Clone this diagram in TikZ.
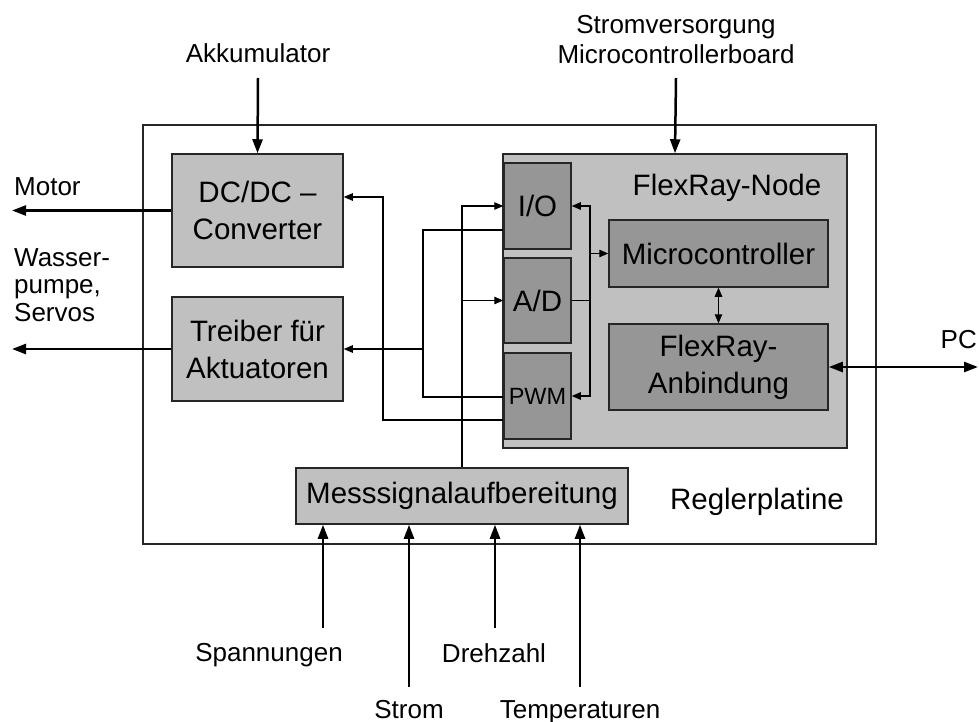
\documentclass[tikz,border=0pt]{standalone}
\usepackage{fontspec}
\setmainfont{Liberation Sans}
\usetikzlibrary{arrows.meta}
\definecolor{hellgrau}{RGB}{192,192,192}
\definecolor{dunkelgrau}{RGB}{150,150,150}
\tikzset{
  block/.style={draw=black!85, line width=1.5pt, fill=hellgrau, inner sep=0pt, align=center, font=\fontsize{29.5}{37}\selectfont},
  einheit/.style={block, fill=dunkelgrau},
  lbl/.style={inner sep=0pt, font=\fontsize{26}{27.5}\selectfont},
  pow/.style={line width=2.5pt, >={Triangle[length=14pt,width=10pt]}, ->},
  sig/.style={line width=1.1pt, >={Triangle[length=9pt,width=7.5pt]}, ->},
}
\begin{document}
\begin{tikzpicture}[x=1pt,y=-1pt]
  \useasboundingbox (0,0) rectangle (979,722);
  % Platine
  \node[block, fill=white, minimum width=733pt, minimum height=419pt] (platine) at (509.5,334.5) {};
  \node[lbl, font=\fontsize{29.5}{37}\selectfont] (platinetxt) at (757,502) {Reglerplatine};
  \node[block, minimum width=171pt, minimum height=113pt] (dcdc) at (257.5,210.5) {DC/DC –\\Converter};
  \node[block, minimum width=171pt, minimum height=104pt] (treiber) at (257.5,349) {Treiber für\\Aktuatoren};
  \node[block, minimum width=332pt, minimum height=56pt] (mess) at (462,496) {Messsignalaufbereitung};
  % FlexRay-Node
  \node[block, minimum width=344pt, minimum height=294pt] (frnode) at (675,301) {};
  \node[lbl, font=\fontsize{29.5}{37}\selectfont] (frtxt) at (727,188) {FlexRay-Node};
  \node[einheit, minimum width=67pt, minimum height=86pt] (io) at (537.5,206) {I/O};
  \node[einheit, minimum width=67pt, minimum height=85pt] (ad) at (537.5,300.5) {A/D};
  \node[einheit, minimum width=67pt, minimum height=86pt, font=\fontsize{23.5}{28}\selectfont] (pwm) at (537.5,396) {PWM};
  \node[einheit, minimum width=219pt, minimum height=67pt] (mc) at (718.5,253.5) {Microcontroller};
  \node[einheit, minimum width=219pt, minimum height=86pt] (fra) at (718.5,367) {FlexRay-\\Anbindung};
  % Beschriftungen aussen
  \node[lbl, anchor=base] (akku) at (258,63) {Akkumulator};
  \node[lbl, anchor=south, align=center, font=\fontsize{26}{30}\selectfont] (versorgung) at (676,64) {Stromversorgung\\Microcontrollerboard};
  \node[lbl, anchor=base west] (motor) at (14,195) {Motor};
  \node[lbl, anchor=north west, align=left] (wasser) at (14,248) {Wasser-\\pumpe,\\Servos};
  \node[lbl, anchor=base east] (pc) at (977,348) {PC};
  \node[lbl, anchor=north] (spann) at (269,643) {Spannungen};
  \node[lbl, anchor=north] (dreh) at (494,643) {Drehzahl};
  \node[lbl, anchor=north] (stromlbl) at (409,700) {Strom};
  \node[lbl, anchor=north] (temp) at (580,700) {Temperaturen};
  % Leistung / Ein- und Ausgaenge
  \draw[pow] (akku.south |- 0,78) -- (dcdc.north);
  \draw[pow] (versorgung.south |- 0,78) -- (frnode.north);
  \draw[pow] (dcdc.west) -- (dcdc.west -| 12,0);
  \draw[pow] (treiber.west) -- (treiber.west -| 12,0);
  \draw[pow,<->] (fra.east) -- (fra.east -| 978,0);
  \draw[pow] (323,628) -- (mess.south -| 323,0);
  \draw[pow] (409,687) -- (mess.south -| 409,0);
  \draw[pow] (495,628) -- (mess.south -| 495,0);
  \draw[pow] (580,687) -- (mess.south -| 580,0);
  % Signale
  \draw[sig] (pwm.west |- 0,420) -| (383,197) -- (dcdc.east |- 0,197);
  \draw[sig,-] (io.west |- 0,230) -| (423,397) -- (pwm.west |- 0,397);
  \draw[sig] (423,349) -- (treiber.east);
  \draw[sig] (mess.north) |- (io.west);
  \draw[sig] (mess.north |- ad.west) -- (ad.west);
  \draw[sig,-] (ad.east) -- (590,300.5);
  \draw[sig,<->] (io.east) -| (590,300) |- (pwm.east);
  \draw[sig] (590,253.5) -- (mc.west);
  \draw[sig,<->] (mc.south) -- (fra.north);
\end{tikzpicture}
\end{document}
